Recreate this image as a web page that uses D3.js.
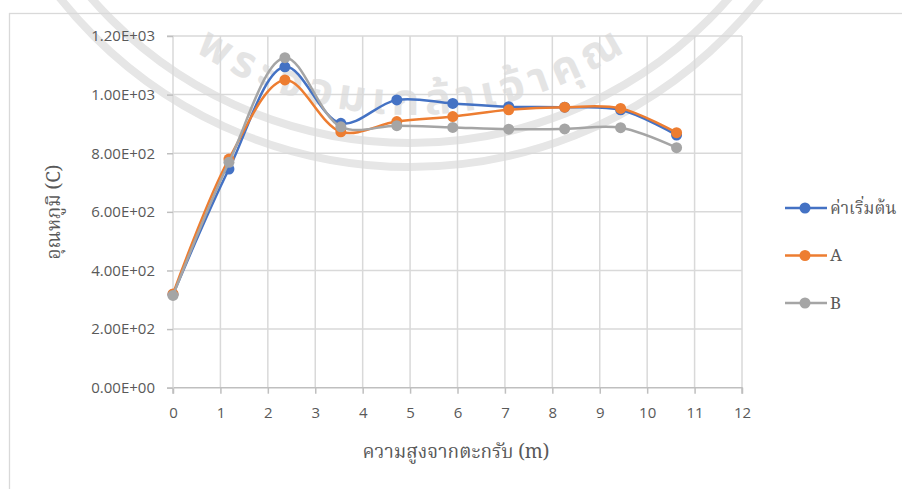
<!DOCTYPE html>
<html>
<head>
<meta charset="utf-8">
<script src="https://cdn.jsdelivr.net/npm/d3@7/dist/d3.min.js"></script>
<style>
  html, body { margin: 0; padding: 0; background: #fff; }
  svg { display: block; }
  .tick text { font-family: "Open Sans", "Liberation Sans", sans-serif; fill: #595959; }
  .thai { font-family: "Noto Serif Thai", "Noto Sans Thai", "Loma", "Garuda", "Liberation Serif", serif; fill: #595959; }
</style>
</head>
<body>
<svg id="chart" width="902" height="489"></svg>
<script>
// Height above the grate (m) and temperature readings (°C) for each run
const heights = [0, 1.18, 2.36, 3.54, 4.72, 5.9, 7.08, 8.26, 9.44, 10.62];
const initialTemps = [318, 746, 1095, 902, 982, 970, 959, 957, 948, 862];
const caseATemps   = [320, 780, 1050, 873, 908, 925, 948, 957, 953, 870];
const caseBTemps   = [315, 769, 1126, 890, 894, 888, 882, 883, 887, 819];
const seriesNames  = ["ค่าเริ่มต้น", "A", "B"];
const seriesColors = ["#4472c4", "#ed7d31", "#a5a5a5"];
const xTicks = [0, 1, 2, 3, 4, 5, 6, 7, 8, 9, 10, 11, 12];
const yTicks = [0, 200, 400, 600, 800, 1000, 1200];
const yTickLabels = ["0.00E+00", "2.00E+02", "4.00E+02", "6.00E+02", "8.00E+02", "1.00E+03", "1.20E+03"];
const sealText = "พระจอมเกล้าเจ้าคุณ";

const series = [initialTemps, caseATemps, caseBTemps].map((vals, i) => ({
  name: seriesNames[i],
  color: seriesColors[i],
  points: heights.map((h, j) => ({ x: h, y: vals[j] }))
}));

const svg = d3.select("#chart");
const plot = { left: 173, right: 742, top: 36, bottom: 387.7 };

const x = d3.scaleLinear().domain([0, 12]).range([plot.left, plot.right]);
const y = d3.scaleLinear().domain([0, 1200]).range([plot.bottom, plot.top]);

// faint seal watermark behind the chart
const seal = svg.append("g");
const sc = { x: 410, y: -280 };
[423, 447].forEach(r => {
  seal.append("circle").attr("cx", sc.x).attr("cy", sc.y).attr("r", r)
    .attr("fill", "none").attr("stroke", "#e6e6e6").attr("stroke-width", 8);
});
const tr = 395;
const a0 = Math.asin(215 / tr);
svg.append("defs").append("path").attr("id", "sealArc")
  .attr("d", `M${sc.x - tr * Math.sin(a0)},${sc.y + tr * Math.cos(a0)} A${tr},${tr} 0 0 0 ${sc.x + tr * Math.sin(a0)},${sc.y + tr * Math.cos(a0)}`);
seal.append("text")
  .attr("font-family", "Noto Sans Thai, Loma, Garuda, sans-serif")
  .attr("font-weight", "bold")
  .attr("font-size", 44)
  .attr("fill", "#e4e4e4")
  .append("textPath").attr("href", "#sealArc")
  .attr("textLength", 2 * a0 * tr).attr("lengthAdjust", "spacing")
  .text(sealText);

// chart frame
svg.append("rect")
  .attr("x", 9.5).attr("y", 13.5)
  .attr("width", 1000).attr("height", 1000)
  .attr("fill", "none").attr("stroke", "#d9d9d9").attr("stroke-width", 1.3);

// gridlines
const grid = svg.append("g");
grid.selectAll("line.h").data(yTicks.slice(1)).join("line")
  .attr("x1", plot.left).attr("x2", plot.right)
  .attr("y1", d => y(d)).attr("y2", d => y(d))
  .attr("stroke", "#d9d9d9").attr("stroke-width", 1.5);
grid.selectAll("line.v").data(xTicks.slice(1)).join("line")
  .attr("y1", plot.top).attr("y2", plot.bottom)
  .attr("x1", d => x(d)).attr("x2", d => x(d))
  .attr("stroke", "#d9d9d9").attr("stroke-width", 1.5);

// axes
const xAxis = d3.axisBottom(x).tickValues(xTicks).tickSize(6).tickPadding(14).tickFormat(d3.format("d"));
const yAxis = d3.axisLeft(y).tickValues(yTicks).tickSize(6).tickPadding(12)
  .tickFormat((d, i) => yTickLabels[i]);

const gx = svg.append("g").attr("transform", `translate(0,${plot.bottom})`).call(xAxis);
const gy = svg.append("g").attr("transform", `translate(${plot.left},0)`).call(yAxis);
[gx, gy].forEach(g => {
  g.select(".domain").attr("stroke", "#bfbfbf").attr("stroke-width", 1.5);
  g.selectAll(".tick line").attr("stroke", "#bfbfbf").attr("stroke-width", 1.5);
  g.selectAll(".tick text").style("font-size", "15px");
});
gx.select(".domain").attr("d", `M${plot.left},6V0H${plot.right}V6`);
gy.select(".domain").attr("d", `M-6,${plot.top}H0V${plot.bottom}H-6`).attr("stroke", "#d9d9d9");

// series lines and markers
const line = d3.line().x(d => x(d.x)).y(d => y(d.y)).curve(d3.curveCatmullRom.alpha(0.5));
series.forEach(s => {
  const g = svg.append("g");
  g.append("path").datum(s.points)
    .attr("d", line).attr("fill", "none")
    .attr("stroke", s.color).attr("stroke-width", 2.5).attr("stroke-linejoin", "round");
  g.selectAll("circle").data(s.points).join("circle")
    .attr("cx", d => x(d.x)).attr("cy", d => y(d.y)).attr("r", 5.5)
    .attr("fill", s.color);
});

// axis titles
svg.append("text").attr("class", "thai")
  .attr("x", 456).attr("y", 458)
  .attr("text-anchor", "middle").style("font-size", "19px")
  .text("ความสูงจากตะกรับ (m)");
svg.append("text").attr("class", "thai")
  .attr("transform", "translate(60,212) rotate(-90)")
  .attr("text-anchor", "middle").style("font-size", "19px")
  .text("อุณหภูมิ (C)");

// legend
const legend = svg.append("g");
series.forEach((s, i) => {
  const ly = 208 + i * 47.5;
  legend.append("line")
    .attr("x1", 785).attr("x2", 827).attr("y1", ly).attr("y2", ly)
    .attr("stroke", s.color).attr("stroke-width", 2.5);
  legend.append("circle").attr("cx", 805).attr("cy", ly).attr("r", 5.5).attr("fill", s.color);
  legend.append("text").attr("class", "thai")
    .attr("x", 830).attr("y", ly + 5.5).style("font-size", "17px")
    .text(s.name);
});
</script>
</body>
</html>
